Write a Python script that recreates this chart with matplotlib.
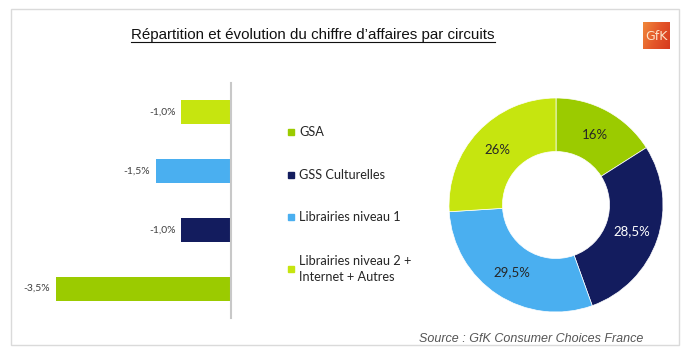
import numpy as np
import matplotlib
matplotlib.use("Agg")
import matplotlib.pyplot as plt
from matplotlib.patches import Rectangle
from matplotlib.lines import Line2D

# %% Data

circuits = ["GSA", "GSS Culturelles", "Librairies niveau 1", "Librairies niveau 2 +\nInternet + Autres"]
colors = ["#9BCB00", "#131C5E", "#4AAFF0", "#C6E50F"]
share = [16, 28.5, 29.5, 26]            # part du CA (%)
evolution = [-3.5, -1.0, -1.5, -1.0]    # evolution (%)

title = "Répartition et évolution du chiffre d\u2019affaires par circuits"
source = "Source : GfK Consumer Choices France"

# %% Figure

W, H = 690, 359
fig = plt.figure(figsize=(W / 100, H / 100), dpi=100)
fig.patch.set_facecolor("white")


def px(x0, y0, w, h):
    # pixel box (top-left origin) -> figure fraction
    return [x0 / W, 1 - (y0 + h) / H, w / W, h / H]


# frame
fig.patches.append(Rectangle((11 / W, 1 - 345 / H), 668 / W, 336 / H,
                             transform=fig.transFigure, fill=False,
                             edgecolor="#DADADA", lw=1))

# title (underlined)
t = fig.text(313 / W, 1 - 35 / H, title, ha="center", va="center",
             fontsize=10.9, family="Liberation Sans", color="#111111")
fig.canvas.draw()
bb = t.get_window_extent().transformed(fig.transFigure.inverted())
fig.lines.append(Line2D([bb.x0, bb.x1], [bb.y0 + 0.5 / H, bb.y0 + 0.5 / H],
                        transform=fig.transFigure, color="#111111", lw=0.8))

# GfK logo
lax = fig.add_axes(px(643, 22, 27, 27))
grad = np.linspace(0, 1, 50)[None, :] * np.ones((50, 1))
grad = grad + np.linspace(0, 0.4, 50)[:, None]
lax.imshow(grad, cmap=matplotlib.colors.LinearSegmentedColormap.from_list(
    "gfk", ["#F0883A", "#E4572A", "#D63A1E"]), extent=(0, 1, 0, 1), aspect="auto")
lax.text(0.5, 0.45, "GfK", color="#FBE3C8", ha="center", va="center",
         fontsize=9, family="DejaVu Sans")
lax.axis("off")

# %% Bars (evolution)

bax = fig.add_axes(px(12, 83, 219, 235))
order = [3, 2, 1, 0]
ypos = np.arange(len(order))
vals = [evolution[i] for i in order]
bcols = [colors[i] for i in order]
bax.barh(ypos, vals, height=0.41, color=bcols)
for y, v in zip(ypos, vals):
    bax.annotate(f"{v:.1f}%".replace(".", ","), (v, y), xytext=(-4, 0),
                 textcoords="offset points", ha="right", va="center",
                 fontsize=7.5, family="Lato", color="#404040")
bax.set_xlim(-4.38, 0)
bax.set_ylim(3.5, -0.5)
for s in ["left", "top", "bottom"]:
    bax.spines[s].set_visible(False)
bax.spines["right"].set_color("#C8C8C8")
bax.spines["right"].set_linewidth(1.5)
bax.set_xticks([])
bax.set_yticks([])
bax.patch.set_alpha(0)

# %% Legend

leg_y = [132, 175, 217, 269]
for name, c, y in zip(circuits, colors, leg_y):
    fig.patches.append(Rectangle((288 / W, 1 - (y + 3) / H), 6 / W, 6 / H,
                                 transform=fig.transFigure, color=c))
    fig.text(299 / W, 1 - y / H, name, ha="left", va="center",
             fontsize=9.2, family="Lato", color="#262626", linespacing=1.4)

# %% Donut (repartition)

R = 107
pax = fig.add_axes(px(556 - R, 205 - R, 2 * R, 2 * R))
wedges, texts, autotexts = pax.pie(
    share, colors=colors, startangle=90, counterclock=False,
    wedgeprops=dict(width=0.5, edgecolor="white", linewidth=0.5),
    autopct=lambda p: f"{round(p, 1):g}%".replace(".", ","),
    pctdistance=0.75, radius=1)
for i, a in enumerate(autotexts):
    a.set_fontsize(9.5)
    a.set_family("Lato")
    a.set_color("white" if i == 1 else "#262626")
pax.set_xlim(-1, 1)
pax.set_ylim(-1, 1)
pax.set_aspect("equal")
pax.axis("off")

# source
fig.text(643 / W, 1 - 339 / H, source, ha="right", va="center",
         fontsize=9, family="Liberation Sans", style="italic", color="#555555")

fig.savefig("out.png", dpi=100)
